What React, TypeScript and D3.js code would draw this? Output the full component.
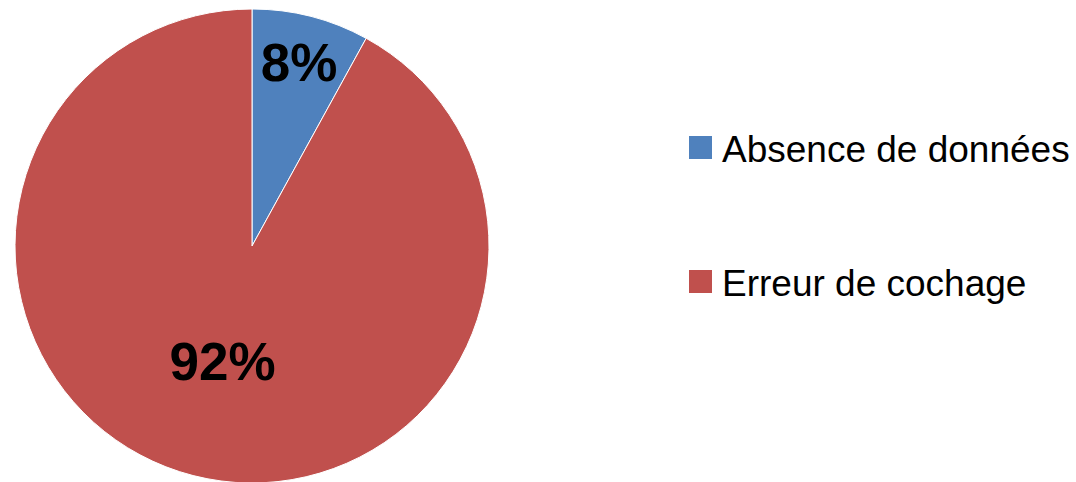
import { FC, useRef, useEffect } from 'react'
import * as d3 from 'd3'

const categories = ['Absence de données', 'Erreur de cochage']
const values = [8, 92]
const colors = ['#4F81BD', '#C0504D']

const App: FC = () => {
  const svgRef = useRef<SVGSVGElement>(null)

  useEffect(() => {
    if (!svgRef.current) return
    const svg = d3.select(svgRef.current)
    svg.selectAll('*').remove()

    const width = 1076
    const height = 482
    const radius = 237
    const cx = 252
    const cy = 246

    svg.attr('width', width).attr('height', height)

    const data = categories.map((c, i) => ({ name: c, value: values[i] }))

    const pie = d3.pie<{ name: string; value: number }>()
      .value(d => d.value)
      .sort(null)

    const arcs = pie(data)

    const arc = d3.arc<d3.PieArcDatum<{ name: string; value: number }>>()
      .innerRadius(0)
      .outerRadius(radius)

    const g = svg.append('g').attr('transform', `translate(${cx}, ${cy})`)

    g.selectAll('path.slice')
      .data(arcs)
      .enter()
      .append('path')
      .attr('class', 'slice')
      .attr('d', arc as any)
      .attr('fill', (_, i) => colors[i])
      .attr('stroke', '#ffffff')
      .attr('stroke-width', 1)

    // small slices get their label near the rim, big ones further in
    const labelPos = (d: d3.PieArcDatum<{ name: string; value: number }>) => {
      const r = d.value < 20 ? radius * 0.8 : radius * 0.5
      const a = (d.startAngle + d.endAngle) / 2
      return [Math.sin(a) * r, -Math.cos(a) * r]
    }

    g.selectAll('text.label')
      .data(arcs)
      .enter()
      .append('text')
      .attr('class', 'label')
      .attr('x', d => labelPos(d)[0])
      .attr('y', d => labelPos(d)[1])
      .attr('dy', '0.36em')
      .attr('text-anchor', 'middle')
      .attr('font-family', 'Liberation Sans, Arial, sans-serif')
      .attr('font-weight', 'bold')
      .attr('font-size', '53px')
      .attr('fill', '#000000')
      .text(d => `${d.value}%`)

    const legend = svg.append('g').attr('transform', 'translate(689, 136)')
    const rows = legend.selectAll('g.row')
      .data(categories)
      .enter()
      .append('g')
      .attr('class', 'row')
      .attr('transform', (_, i) => `translate(0, ${i * 134})`)

    rows.append('rect')
      .attr('width', 23)
      .attr('height', 23)
      .attr('fill', (_, i) => colors[i])

    rows.append('text')
      .attr('x', 33)
      .attr('y', 26)
      .attr('font-family', 'Liberation Sans, Arial, sans-serif')
      .attr('font-size', '37px')
      .attr('fill', '#000000')
      .text(d => d)
  }, [])

  return (
    <div style={{ position: 'absolute', left: 0, top: 0 }}>
      <svg ref={svgRef} style={{ display: 'block' }} />
    </div>
  )
}

export default App
